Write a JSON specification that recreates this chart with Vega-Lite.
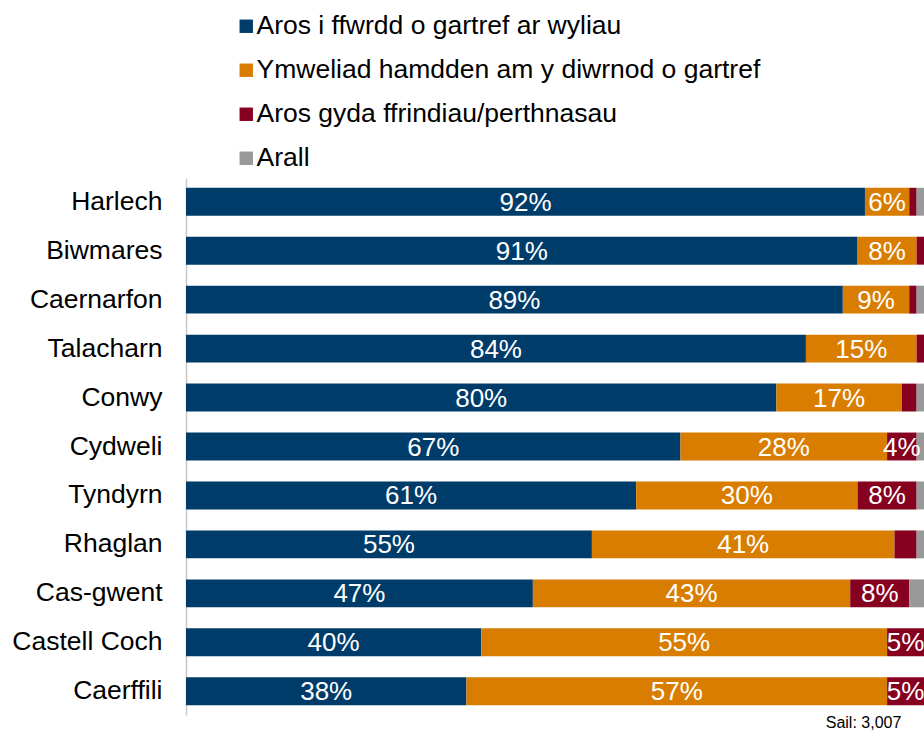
{
  "$schema": "https://vega.github.io/schema/vega-lite/v6.json",
  "width": 738,
  "height": 537,
  "autosize": {"type": "none"},
  "padding": {"left": 186, "top": 178, "right": 0, "bottom": 18},
  "background": "white",
  "config": {"view": {"stroke": null}, "font": "Liberation Sans"},
  "title": {"text": "Sail: 3,007", "orient": "bottom", "anchor": "end", "fontSize": 16, "fontWeight": "normal", "color": "#000000", "dx": -23, "offset": 0, "font": "Liberation Sans"},
  "data": {"values": [
    {"site": "Harlech", "cat": "Aros i ffwrdd o gartref ar wyliau", "k": 1, "v": 92},
    {"site": "Harlech", "cat": "Ymweliad hamdden am y diwrnod o gartref", "k": 2, "v": 6},
    {"site": "Harlech", "cat": "Aros gyda ffrindiau/perthnasau", "k": 3, "v": 1},
    {"site": "Harlech", "cat": "Arall", "k": 4, "v": 1},
    {"site": "Biwmares", "cat": "Aros i ffwrdd o gartref ar wyliau", "k": 1, "v": 91},
    {"site": "Biwmares", "cat": "Ymweliad hamdden am y diwrnod o gartref", "k": 2, "v": 8},
    {"site": "Biwmares", "cat": "Aros gyda ffrindiau/perthnasau", "k": 3, "v": 1},
    {"site": "Biwmares", "cat": "Arall", "k": 4, "v": 0},
    {"site": "Caernarfon", "cat": "Aros i ffwrdd o gartref ar wyliau", "k": 1, "v": 89},
    {"site": "Caernarfon", "cat": "Ymweliad hamdden am y diwrnod o gartref", "k": 2, "v": 9},
    {"site": "Caernarfon", "cat": "Aros gyda ffrindiau/perthnasau", "k": 3, "v": 1},
    {"site": "Caernarfon", "cat": "Arall", "k": 4, "v": 1},
    {"site": "Talacharn", "cat": "Aros i ffwrdd o gartref ar wyliau", "k": 1, "v": 84},
    {"site": "Talacharn", "cat": "Ymweliad hamdden am y diwrnod o gartref", "k": 2, "v": 15},
    {"site": "Talacharn", "cat": "Aros gyda ffrindiau/perthnasau", "k": 3, "v": 1},
    {"site": "Talacharn", "cat": "Arall", "k": 4, "v": 0},
    {"site": "Conwy", "cat": "Aros i ffwrdd o gartref ar wyliau", "k": 1, "v": 80},
    {"site": "Conwy", "cat": "Ymweliad hamdden am y diwrnod o gartref", "k": 2, "v": 17},
    {"site": "Conwy", "cat": "Aros gyda ffrindiau/perthnasau", "k": 3, "v": 2},
    {"site": "Conwy", "cat": "Arall", "k": 4, "v": 1},
    {"site": "Cydweli", "cat": "Aros i ffwrdd o gartref ar wyliau", "k": 1, "v": 67},
    {"site": "Cydweli", "cat": "Ymweliad hamdden am y diwrnod o gartref", "k": 2, "v": 28},
    {"site": "Cydweli", "cat": "Aros gyda ffrindiau/perthnasau", "k": 3, "v": 4},
    {"site": "Cydweli", "cat": "Arall", "k": 4, "v": 1},
    {"site": "Tyndyrn", "cat": "Aros i ffwrdd o gartref ar wyliau", "k": 1, "v": 61},
    {"site": "Tyndyrn", "cat": "Ymweliad hamdden am y diwrnod o gartref", "k": 2, "v": 30},
    {"site": "Tyndyrn", "cat": "Aros gyda ffrindiau/perthnasau", "k": 3, "v": 8},
    {"site": "Tyndyrn", "cat": "Arall", "k": 4, "v": 1},
    {"site": "Rhaglan", "cat": "Aros i ffwrdd o gartref ar wyliau", "k": 1, "v": 55},
    {"site": "Rhaglan", "cat": "Ymweliad hamdden am y diwrnod o gartref", "k": 2, "v": 41},
    {"site": "Rhaglan", "cat": "Aros gyda ffrindiau/perthnasau", "k": 3, "v": 3},
    {"site": "Rhaglan", "cat": "Arall", "k": 4, "v": 1},
    {"site": "Cas-gwent", "cat": "Aros i ffwrdd o gartref ar wyliau", "k": 1, "v": 47},
    {"site": "Cas-gwent", "cat": "Ymweliad hamdden am y diwrnod o gartref", "k": 2, "v": 43},
    {"site": "Cas-gwent", "cat": "Aros gyda ffrindiau/perthnasau", "k": 3, "v": 8},
    {"site": "Cas-gwent", "cat": "Arall", "k": 4, "v": 2},
    {"site": "Castell Coch", "cat": "Aros i ffwrdd o gartref ar wyliau", "k": 1, "v": 40},
    {"site": "Castell Coch", "cat": "Ymweliad hamdden am y diwrnod o gartref", "k": 2, "v": 55},
    {"site": "Castell Coch", "cat": "Aros gyda ffrindiau/perthnasau", "k": 3, "v": 5},
    {"site": "Castell Coch", "cat": "Arall", "k": 4, "v": 0},
    {"site": "Caerffili", "cat": "Aros i ffwrdd o gartref ar wyliau", "k": 1, "v": 38},
    {"site": "Caerffili", "cat": "Ymweliad hamdden am y diwrnod o gartref", "k": 2, "v": 57},
    {"site": "Caerffili", "cat": "Aros gyda ffrindiau/perthnasau", "k": 3, "v": 5},
    {"site": "Caerffili", "cat": "Arall", "k": 4, "v": 0}
  ]},
  "transform": [
    {"stack": "v", "groupby": ["site"], "sort": [{"field": "k", "order": "ascending"}], "as": ["x0", "x1"]},
    {"calculate": "(datum.x0 + datum.x1) / 2", "as": "xm"},
    {"calculate": "datum.v + '%'", "as": "lab"}
  ],
  "encoding": {
    "y": {
      "field": "site", "type": "nominal", "sort": null,
      "scale": {"paddingInner": 0.43, "paddingOuter": 0.2},
      "axis": {"title": null, "ticks": false, "labelFontSize": 26.5, "labelColor": "#000000", "labelPadding": 24, "domainColor": "#c8c8c8", "domainWidth": 1.5, "grid": false, "labelFont": "Liberation Sans"}
    }
  },
  "layer": [
    {
      "mark": {"type": "bar", "clip": false},
      "encoding": {
        "x": {"field": "x0", "type": "quantitative", "scale": {"domain": [0, 100]}, "axis": null},
        "x2": {"field": "x1"},
        "color": {
          "field": "cat", "type": "nominal",
          "scale": {
            "domain": ["Aros i ffwrdd o gartref ar wyliau", "Ymweliad hamdden am y diwrnod o gartref", "Aros gyda ffrindiau/perthnasau", "Arall"],
            "range": ["#003c69", "#d97d00", "#86001f", "#999999"]
          },
          "legend": {
            "title": null, "orient": "none", "legendX": 47, "legendY": -165,
            "symbolType": "square", "symbolSize": 180, "symbolStrokeWidth": 0,
            "labelFontSize": 26.5, "labelColor": "#000000", "labelFont": "Liberation Sans",
            "rowPadding": 17, "labelOffset": -3, "padding": 0, "labelLimit": 700
          }
        }
      }
    },
    {
      "transform": [{"filter": "datum.v >= 4"}],
      "mark": {"type": "text", "color": "white", "fontSize": 26, "baseline": "middle", "align": "center", "font": "Liberation Sans", "dy": 1},
      "encoding": {
        "x": {"field": "xm", "type": "quantitative"},
        "text": {"field": "lab"}
      }
    }
  ]
}
